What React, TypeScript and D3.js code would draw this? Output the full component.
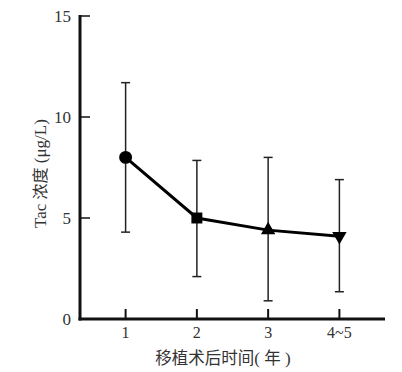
import { useEffect, useRef } from "react";
import * as d3 from "d3";

const categories = ["1", "2", "3", "4~5"];
const means = [8.0, 5.0, 4.4, 4.1];
const upper = [11.7, 7.85, 8.0, 6.9];
const lower = [4.3, 2.1, 0.9, 1.35];
const yTicks = [0, 5, 10, 15];
const shapes = ["circle", "square", "triangle", "triangleDown"];

const W = 402;
const H = 372;

const App = () => {
  const ref = useRef<SVGSVGElement>(null);

  useEffect(() => {
    const svg = d3.select(ref.current);
    svg.selectAll("*").remove();

    const x = d3.scalePoint<string>().domain(categories).range([80, 385]).padding(0.64);
    const y = d3.scaleLinear().domain([0, 15]).range([319, 16]);
    const textColor = "#333";
    const serif = "'Liberation Serif', 'Times New Roman', serif";
    const cjk = "'Noto Sans CJK SC'";

    // axes
    svg.append("line").attr("x1", 80).attr("x2", 80).attr("y1", 15).attr("y2", 320.5)
      .attr("stroke", "#111").attr("stroke-width", 3);
    svg.append("line").attr("x1", 78.5).attr("x2", 385).attr("y1", 319).attr("y2", 319)
      .attr("stroke", "#111").attr("stroke-width", 3);

    yTicks.forEach((t) => {
      if (t > 0)
        svg.append("line").attr("x1", 80).attr("x2", 90).attr("y1", y(t)).attr("y2", y(t))
          .attr("stroke", "#111").attr("stroke-width", 1.5);
      svg.append("text").attr("x", 71).attr("y", y(t)).attr("dy", "0.35em")
        .attr("text-anchor", "end").attr("font-family", serif).attr("font-size", 17)
        .attr("fill", textColor).text(t);
    });

    categories.forEach((c) => {
      svg.append("line").attr("x1", x(c)!).attr("x2", x(c)!).attr("y1", 309).attr("y2", 319)
        .attr("stroke", "#111").attr("stroke-width", 2);
      svg.append("text").attr("x", x(c)!).attr("y", 338)
        .attr("text-anchor", "middle").attr("font-family", serif).attr("font-size", 16)
        .attr("fill", textColor).text(c);
    });

    // error bars
    const cap = 4.5;
    categories.forEach((c, i) => {
      const cx = x(c)!;
      const g = svg.append("g").attr("stroke", "#222").attr("stroke-width", 1.5);
      g.append("line").attr("x1", cx).attr("x2", cx).attr("y1", y(upper[i])).attr("y2", y(lower[i]));
      g.append("line").attr("x1", cx - cap).attr("x2", cx + cap).attr("y1", y(upper[i])).attr("y2", y(upper[i]));
      g.append("line").attr("x1", cx - cap).attr("x2", cx + cap).attr("y1", y(lower[i])).attr("y2", y(lower[i]));
    });

    // line
    const line = d3.line<number>().x((_, i) => x(categories[i])!).y((d) => y(d));
    svg.append("path").attr("d", line(means)).attr("fill", "none")
      .attr("stroke", "#000").attr("stroke-width", 3);

    // markers
    const symbolMap: Record<string, d3.SymbolType> = {
      circle: d3.symbolCircle,
      square: d3.symbolSquare,
      triangle: d3.symbolTriangle,
      triangleDown: d3.symbolTriangle,
    };
    const sizes: Record<string, number> = { circle: 130, square: 120, triangle: 90, triangleDown: 90 };
    means.forEach((m, i) => {
      const s = shapes[i];
      svg.append("path")
        .attr("d", d3.symbol().type(symbolMap[s]).size(sizes[s])())
        .attr("transform", `translate(${x(categories[i])},${y(m)})${s === "triangleDown" ? " rotate(180)" : ""}`)
        .attr("fill", "#000");
    });

    // axis titles
    svg.append("text")
      .attr("transform", `translate(40,${y(7.2)}) rotate(-90)`)
      .attr("text-anchor", "middle").attr("dy", "0.35em")
      .attr("font-size", 17).attr("fill", textColor)
      .attr("font-family", serif)
      .call((t) => {
        t.append("tspan").text("Tac ");
        t.append("tspan").attr("font-family", cjk).attr("font-size", 16).text("浓度");
        t.append("tspan").text(" (μg/L)");
      });

    svg.append("text").attr("x", 223).attr("y", 364).attr("text-anchor", "middle")
      .attr("font-size", 17).attr("fill", textColor).attr("font-family", serif)
      .call((t) => {
        t.append("tspan").attr("font-family", cjk).attr("font-size", 16.5).text("移植术后时间");
        t.append("tspan").text("( ");
        t.append("tspan").attr("font-family", cjk).attr("font-size", 16.5).text("年");
        t.append("tspan").text(" )");
      });
  }, []);

  return (
    <svg ref={ref} width={W} height={H}
      style={{ position: "absolute", left: 0, top: 0, background: "#fff" }} />
  );
};

export default App;
